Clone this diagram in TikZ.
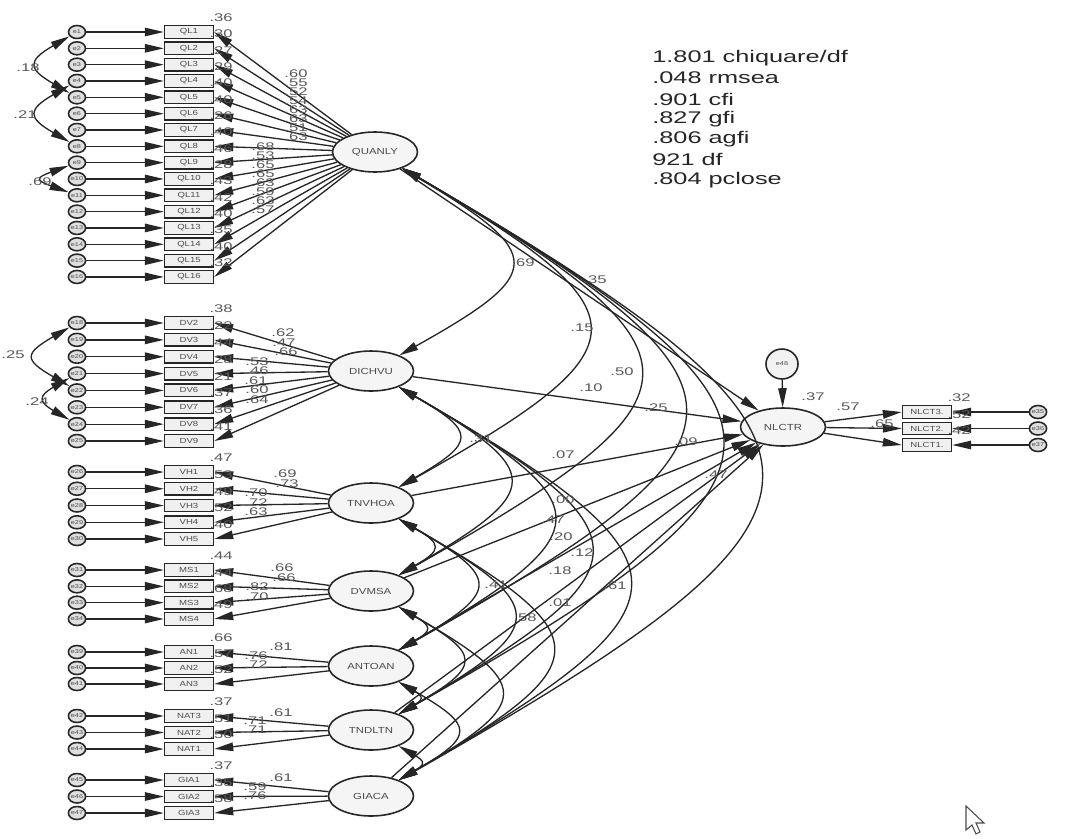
\documentclass[tikz,border=0pt]{standalone}
\usepackage{fontspec}
\setmainfont{Liberation Sans}
\newfontfamily\widefont[FakeStretch=1.5]{Liberation Sans}
\newfontfamily\boxfont[FakeStretch=1.3]{Liberation Sans}
\usetikzlibrary{arrows.meta,positioning,shapes.geometric}

\begin{document}
\begin{tikzpicture}[
  x=0.2mm,y=-0.2mm,
  >={Triangle[length=3.8mm,width=1.7mm]},
  obs/.style={draw=black!85,fill=gray!12,line width=0.8pt,minimum width=9.8mm,
    minimum height=2.5mm,inner sep=0pt,font=\boxfont\fontsize{4.2}{5}\selectfont,text=black!70},
  lat/.style={ellipse,draw=black!85,fill=gray!8,line width=0.9pt,minimum width=17mm,
    minimum height=8mm,inner sep=0pt,font=\boxfont\fontsize{5}{6}\selectfont,text=black!70},
  err/.style={ellipse,draw=black!85,fill=gray!25,line width=0.9pt,minimum width=3.4mm,
    minimum height=2.6mm,inner sep=0pt,font=\boxfont\fontsize{3.2}{4}\selectfont,text=black!70},
  est/.style={inner sep=0pt,font=\widefont\fontsize{6.3}{7}\selectfont,text=black!65},
  rsq/.style={est,anchor=south west,xshift=-1mm,yshift=0.6mm},
  reg/.style={->,line width=0.75pt,black!85},
  cov/.style={<->,line width=0.75pt,black!85},
  fitstat/.style={anchor=west,inner sep=0pt,font=\widefont\fontsize{9.6}{11}\selectfont,text=black!85}
]
  \fill[white] (0,0) rectangle (1071,838);
  \useasboundingbox (0,0) rectangle (1071,838);

  % latent variables
  \node[lat] (QUANLY) at (375,152) {QUANLY};
  \node[lat] (DICHVU) at (371,371) {DICHVU};
  \node[lat] (TNVHOA) at (371,503) {TNVHOA};
  \node[lat] (DVMSA)  at (371,591) {DVMSA};
  \node[lat] (ANTOAN) at (371,666) {ANTOAN};
  \node[lat] (TNDLTN) at (371,730) {TNDLTN};
  \node[lat] (GIACA)  at (371,796) {GIACA};
  \node[lat,minimum height=7.6mm] (NLCTR) at (783,427) {NLCTR};
  \node[err,minimum width=6.4mm,minimum height=6mm,fill=gray!10] (e48) at (782,364) {e48};
  \draw[reg] (e48) -- (NLCTR);
  \node[est] (rNL) at (813,397) {.37};

  % QUANLY items
  \foreach \n/\lo/\rr/\lx/\ly [count=\k] in {1/.60/.36/296/74, 2/.55/.30/296/83,
      3/.52/.27/296/92, 4/.54/.29/296/101, 5/.63/.40/296/110, 6/.63/.40/296/119,
      7/.51/.26/296/128, 8/.63/.40/296/137, 9/.68/.46/263/147, 10/.53/.28/263/156,
      11/.65/.43/263/165, 12/.65/.42/263/174, 13/.63/.40/263/183, 14/.59/.35/263/192,
      15/.63/.40/263/201, 16/.57/.32/263/210} {
    \pgfmathsetmacro\yy{32+(\k-1)*16.33}
    \node[obs] (QL\n) at (189,\yy) {QL\n};
    \node[err] (e\n) at (77,\yy) {e\n};
    \draw[reg] (e\n) -- (QL\n);
    \draw[reg] (QUANLY) -- (QL\n.east);
    \node[rsq] (rq\n) at (QL\n.north east) {\rr};
    \node[est] (lq\n) at (\lx,\ly) {\lo};
  }

  % DICHVU items
  \foreach \n/\lo/\rr/\lx/\ly [count=\k] in {2/.62/.38/283/333, 3/.47/.22/284/343,
      4/.66/.44/286/352, 5/.53/.28/257/362, 6/.46/.21/257/371, 7/.61/.37/256/381,
      8/.60/.36/257/390, 9/.64/.41/257/400} {
    \pgfmathsetmacro\yy{323+(\k-1)*16.86}
    \pgfmathtruncatemacro\en{\n+16}
    \node[obs] (DV\n) at (189,\yy) {DV\n};
    \node[err] (e\en) at (77,\yy) {e\en};
    \draw[reg] (e\en) -- (DV\n);
    \draw[reg] (DICHVU) -- (DV\n.east);
    \node[rsq] (rd\n) at (DV\n.north east) {\rr};
    \node[est] (ld\n) at (\lx,\ly) {\lo};
  }

  % TNVHOA items
  \foreach \n/\lo/\rr/\lx/\ly [count=\k] in {1/.69/.47/285/474, 2/.73/.53/287/484,
      3/.70/.49/256/493, 4/.72/.52/256/503, 5/.63/.40/256/512} {
    \pgfmathsetmacro\yy{472+(\k-1)*16.75}
    \pgfmathtruncatemacro\en{\n+25}
    \node[obs] (VH\n) at (189,\yy) {VH\n};
    \node[err] (e\en) at (77,\yy) {e\en};
    \draw[reg] (e\en) -- (VH\n);
    \draw[reg] (TNVHOA) -- (VH\n.east);
    \node[rsq] (rv\n) at (VH\n.north east) {\rr};
    \node[est] (lv\n) at (\lx,\ly) {\lo};
  }

  % DVMSA items
  \foreach \n/\lo/\rr/\lx/\ly [count=\k] in {1/.66/.44/282/568, 2/.66/.44/284/578,
      3/.82/.68/257/587, 4/.70/.49/257/597} {
    \pgfmathsetmacro\yy{570+(\k-1)*16.33}
    \pgfmathtruncatemacro\en{\n+30}
    \node[obs] (MS\n) at (189,\yy) {MS\n};
    \node[err] (e\en) at (77,\yy) {e\en};
    \draw[reg] (e\en) -- (MS\n);
    \draw[reg] (DVMSA) -- (MS\n.east);
    \node[rsq] (rm\n) at (MS\n.north east) {\rr};
    \node[est] (lm\n) at (\lx,\ly) {\lo};
  }

  % ANTOAN items
  \foreach \n/\lo/\rr/\lx/\ly [count=\k] in {1/.81/.66/281/647, 2/.76/.57/256/656,
      3/.72/.52/256/665} {
    \pgfmathsetmacro\yy{652+(\k-1)*16}
    \pgfmathtruncatemacro\en{\n+38}
    \node[obs] (AN\n) at (189,\yy) {AN\n};
    \node[err] (e\en) at (77,\yy) {e\en};
    \draw[reg] (e\en) -- (AN\n);
    \draw[reg] (ANTOAN) -- (AN\n.east);
    \node[rsq] (ra\n) at (AN\n.north east) {\rr};
    \node[est] (la\n) at (\lx,\ly) {\lo};
  }

  % TNDLTN items
  \foreach \n/\lo/\rr/\lx/\ly [count=\k] in {3/.61/.37/281/713, 2/.71/.51/255/721,
      1/.71/.50/255/730} {
    \pgfmathsetmacro\yy{716+(\k-1)*16.5}
    \pgfmathtruncatemacro\en{\k+41}
    \node[obs] (NAT\n) at (189,\yy) {NAT\n};
    \node[err] (e\en) at (77,\yy) {e\en};
    \draw[reg] (e\en) -- (NAT\n);
    \draw[reg] (TNDLTN) -- (NAT\n.east);
    \node[rsq] (rn\n) at (NAT\n.north east) {\rr};
    \node[est] (ln\n) at (\lx,\ly) {\lo};
  }

  % GIACA items
  \foreach \n/\lo/\rr/\lx/\ly [count=\k] in {1/.61/.37/281/778, 2/.59/.35/255/787,
      3/.76/.58/255/796} {
    \pgfmathsetmacro\yy{780+(\k-1)*16.5}
    \pgfmathtruncatemacro\en{\n+44}
    \node[obs] (GIA\n) at (189,\yy) {GIA\n};
    \node[err] (e\en) at (77,\yy) {e\en};
    \draw[reg] (e\en) -- (GIA\n);
    \draw[reg] (GIACA) -- (GIA\n.east);
    \node[rsq] (rg\n) at (GIA\n.north east) {\rr};
    \node[est] (lg\n) at (\lx,\ly) {\lo};
  }

  % NLCTR items
  \foreach \n/\rr [count=\k] in {3/.32, 2/.52, 1/.42} {
    \pgfmathsetmacro\yy{412+(\k-1)*16.5}
    \pgfmathtruncatemacro\en{\k+34}
    \node[obs] (NLCT\n) at (927,\yy) {NLCT\n.};
    \node[err] (e\en) at (1038,\yy) {e\en};
    \draw[reg] (e\en) -- (NLCT\n);
    \draw[reg] (NLCTR) -- (NLCT\n.west);
    \node[rsq] (rl\n) at (NLCT\n.north east) {\rr};
  }
  \node[est] (ll3) at (848,407) {.57};
  \node[est] (ll2) at (882,424) {.65};

  % error covariances
  \draw[cov] (e1) to[bend right=60,looseness=2.2] (e5);
  \draw[cov] (e4) to[bend right=60,looseness=2.2] (e8);
  \draw[cov] (e9) to[bend right=70,looseness=3.4] (e11);
  \draw[cov] (e18) to[bend right=60,looseness=2.3] (e22);
  \draw[cov] (e21) to[bend right=60,looseness=2.2] (e24);
  \node[est] (c1) at (28,68) {.18};
  \node[est] (c2) at (25,115) {.21};
  \node[est] (c3) at (40,182) {.69};
  \node[est] (c4) at (13,355) {.25};
  \node[est] (c5) at (37,402) {.24};

  % structural paths and latent covariances
  \foreach \a in {QUANLY,DICHVU,TNVHOA,DVMSA,ANTOAN,TNDLTN,GIACA}
    \draw[reg] (\a) -- (NLCTR);
  \foreach \a [count=\i] in {QUANLY,DICHVU,TNVHOA,DVMSA,ANTOAN,TNDLTN,GIACA}
    \foreach \b [count=\j] in {QUANLY,DICHVU,TNVHOA,DVMSA,ANTOAN,TNDLTN,GIACA} {
      \ifnum\j>\i
        \draw[cov] (\a) to[bend left=60,looseness=2.3] (\b);
      \fi
    }
  \foreach \t/\px/\py [count=\k] in {.69/523/263, .35/595/280, .15/582/328, .50/622/372,
      .10/591/388, .25/656/408, .31/481/439, .07/563/455, .09/686/442, .47/716/475,
      .00/563/500, .47/553/520, .20/561/537, .12/582/553, .18/560/571, .41/496/585,
      .01/560/603, .61/615/586, .58/525/618}
    \node[est] (s\k) at (\px,\py) {\t};

  % fit indices
  \foreach \t/\py [count=\k] in {{1.801 chiquare/df}/58, {.048 rmsea}/78, {.901 cfi}/99,
      {.827 gfi}/119, {.806 agfi}/139, {921 df}/159, {.804 pclose}/180}
    \node[fitstat] (f\k) at (652,\py) {\t};

  % pointer
  \draw[black!70,line width=0.6pt,fill=white] (966,806) -- (966,830) -- (972,825)
    -- (976,834) -- (980,832) -- (976,823) -- (984,823) -- cycle;
\end{tikzpicture}
\end{document}
